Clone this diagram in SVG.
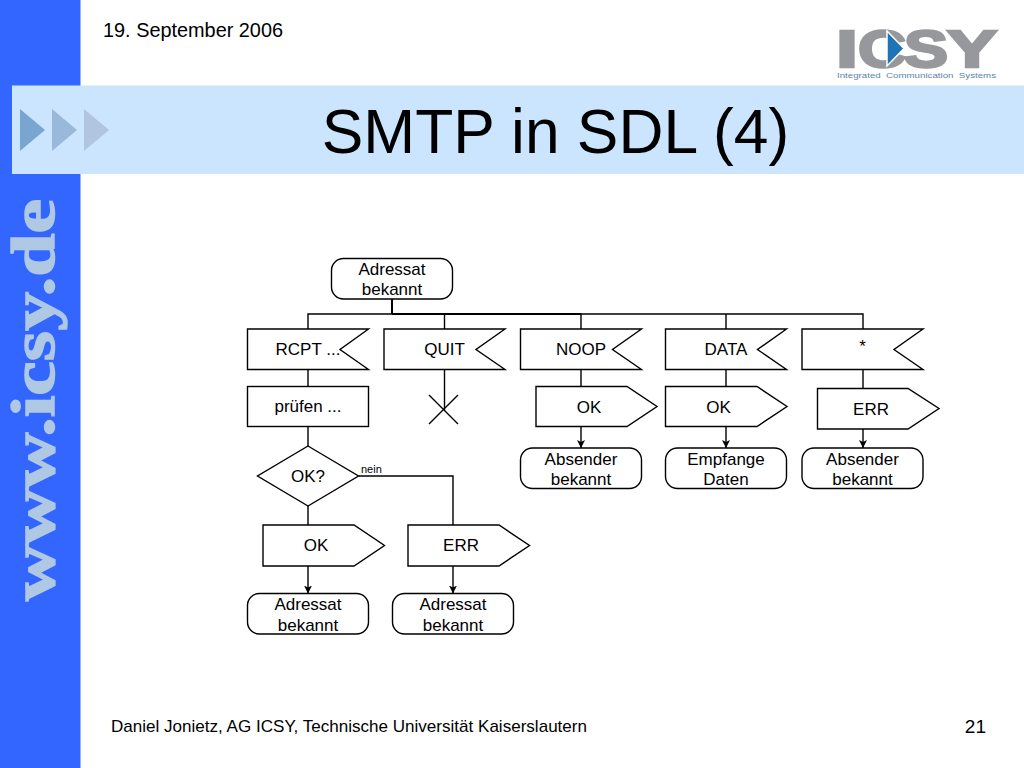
<svg xmlns="http://www.w3.org/2000/svg" width="1024" height="768" viewBox="0 0 1024 768">
<style>
text{font-family:"Liberation Sans",Arial,sans-serif;fill:#000}
.s{fill:#fff;stroke:#000;stroke-width:1.4;stroke-linejoin:miter}
.c{fill:none;stroke:#000;stroke-width:1.4}
.t{font-size:17px;text-anchor:middle}
.l{font-weight:bold;font-size:52px;fill:#96989c;stroke:#96989c;stroke-width:2.5}
</style>
<defs><marker id="a" markerUnits="userSpaceOnUse" markerWidth="9" markerHeight="9" refX="8" refY="4" orient="auto"><path d="M0 0L8 4L0 8L2 4Z" fill="#000"/></marker></defs>
<rect width="1024" height="768" fill="#fff"/>
<g id="sidebar">
<rect x="0" y="0" width="80.5" height="768" fill="#3366ff"/>
<text transform="translate(54 601) rotate(-90)" textLength="402" lengthAdjust="spacingAndGlyphs" style="font-family:'Liberation Serif',serif;font-weight:bold;font-size:61px;fill:#afc8e4;stroke:#afc8e4;stroke-width:1.5">www.icsy.de</text>
</g>
<g id="header">
<rect x="12" y="85.5" width="1012" height="88.5" fill="#cce5ff"/>
<polygon points="20,109 45,130 20,151" fill="#79a5d1"/>
<polygon points="52,109 77,130 52,151" fill="#9ab8d9"/>
<polygon points="84,109 109,130 84,151" fill="#b0c6de"/>
<text x="555.5" y="153" text-anchor="middle" style="font-size:62.3px">SMTP in SDL (4)</text>
<text x="103" y="37" style="font-size:19.9px" textLength="180" lengthAdjust="spacingAndGlyphs">19. September 2006</text>
</g>
<g id="logo">
<text class="l" x="836" y="67" textLength="22" lengthAdjust="spacingAndGlyphs">I</text>
<text class="l" x="858" y="67" textLength="48" lengthAdjust="spacingAndGlyphs">C</text>
<text class="l" x="904" y="67" textLength="44" lengthAdjust="spacingAndGlyphs">S</text>
<text class="l" x="947" y="67" textLength="50" lengthAdjust="spacingAndGlyphs">Y</text>
<polygon points="887,31 904,48.5 887,66" fill="#1f74b8" stroke="#fff" stroke-width="1.5"/>
<text x="837" y="77.5" textLength="159" lengthAdjust="spacingAndGlyphs" style="font-size:8px;fill:#5b85a6;white-space:pre">Integrated  Communication  Systems</text>
</g>
<g id="footer">
<text x="111" y="732" style="font-size:17px" textLength="476" lengthAdjust="spacingAndGlyphs">Daniel Jonietz, AG ICSY, Technische Universität Kaiserslautern</text>
<text x="986" y="733" text-anchor="end" style="font-size:19px">21</text>
</g>
<g id="connectors">
<path class="c" d="M392 299V314" style="stroke-width:2"/>
<path class="c" d="M392 314H581" style="stroke-width:2"/>
<path class="c" d="M308 329V314H863V329M444.5 314V329M581 314V329M726 314V329"/>
<path class="c" d="M308 369.5V386.5M308 426.5V446M308 506V525"/>
<path class="c" d="M444.5 369.5V410M429 395L458 424M458 395L429 424"/>
<path class="c" d="M581 369.5V386.5M726 369.5V386.5M863 369.5V388.5"/>
<path class="c" d="M358.5 476H453V525"/>
<path class="c" marker-end="url(#a)" d="M581 426.5V448"/>
<path class="c" marker-end="url(#a)" d="M726 426.5V448"/>
<path class="c" marker-end="url(#a)" d="M863 429V448"/>
<path class="c" marker-end="url(#a)" d="M308 566V593.5"/>
<path class="c" marker-end="url(#a)" d="M453 566V593.5"/>
</g>
<g id="n-start"><rect class="s" x="331.5" y="258.5" width="121" height="40.5" rx="12"/><text class="t" x="392" y="274.5">Adressat</text><text class="t" x="392" y="295">bekannt</text></g>
<g id="n-rcpt"><polygon class="s" points="247.5,329 368.5,329 340,349.5 368.5,369.5 247.5,369.5"/><text class="t" x="308" y="355">RCPT ...</text></g>
<g id="n-quit"><polygon class="s" points="384,329 505,329 476,349.5 505,369.5 384,369.5"/><text class="t" x="444.5" y="355">QUIT</text></g>
<g id="n-noop"><polygon class="s" points="520.5,329 641.5,329 612.5,349.5 641.5,369.5 520.5,369.5"/><text class="t" x="581" y="355">NOOP</text></g>
<g id="n-data"><polygon class="s" points="665.5,329 786.5,329 757.5,349.5 786.5,369.5 665.5,369.5"/><text class="t" x="726" y="355">DATA</text></g>
<g id="n-any"><polygon class="s" points="802,329 923,329 894,349.5 923,369.5 802,369.5"/><text class="t" x="862.5" y="352">*</text></g>
<g id="n-pruefen"><rect class="s" x="247.5" y="386.5" width="121" height="40"/><text class="t" x="308" y="412">prüfen ...</text></g>
<g id="n-ok1"><polygon class="s" points="536,386.5 627,386.5 657,406.5 627,426.5 536,426.5"/><text class="t" x="589" y="412.5">OK</text></g>
<g id="n-ok2"><polygon class="s" points="665.5,386.5 757,386.5 787,406.5 757,426.5 665.5,426.5"/><text class="t" x="718.5" y="412.5">OK</text></g>
<g id="n-err1"><polygon class="s" points="817.5,388.5 908,388.5 939,408.5 908,429 817.5,429"/><text class="t" x="871" y="415">ERR</text></g>
<g id="n-abs1"><rect class="s" x="520.5" y="448" width="121" height="40.5" rx="12"/><text class="t" x="581" y="464.5">Absender</text><text class="t" x="581" y="485">bekannt</text></g>
<g id="n-emp"><rect class="s" x="665.5" y="448" width="121" height="40.5" rx="12"/><text class="t" x="726" y="464.5">Empfange</text><text class="t" x="726" y="485">Daten</text></g>
<g id="n-abs2"><rect class="s" x="802" y="448" width="121" height="40.5" rx="12"/><text class="t" x="862.5" y="464.5">Absender</text><text class="t" x="862.5" y="485">bekannt</text></g>
<g id="n-decision"><polygon class="s" points="308,446 358.5,476 308,506 257.5,476"/><text class="t" x="308" y="482">OK?</text><text x="361" y="473" style="font-size:11px">nein</text></g>
<g id="n-ok3"><polygon class="s" points="263,525 354,525 384.5,545.5 354,566 263,566"/><text class="t" x="316" y="551">OK</text></g>
<g id="n-err2"><polygon class="s" points="408,525 499,525 529.5,545.5 499,566 408,566"/><text class="t" x="461" y="551">ERR</text></g>
<g id="n-adr1"><rect class="s" x="247.5" y="593.5" width="121" height="40.5" rx="12"/><text class="t" x="308" y="610">Adressat</text><text class="t" x="308" y="630.5">bekannt</text></g>
<g id="n-adr2"><rect class="s" x="392.5" y="593.5" width="121" height="40.5" rx="12"/><text class="t" x="453" y="610">Adressat</text><text class="t" x="453" y="630.5">bekannt</text></g>
</svg>
